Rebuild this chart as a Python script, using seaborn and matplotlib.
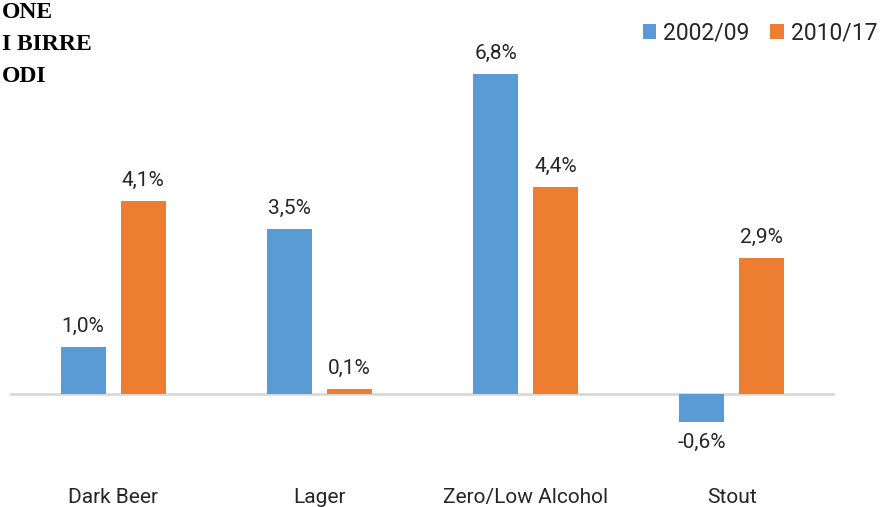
import pandas as pd
import matplotlib.pyplot as plt
import seaborn as sns

categories = ["Dark Beer", "Lager", "Zero/Low Alcohol", "Stout"]
periods = ["2002/09", "2010/17"]
growth_2002_09 = [1.0, 3.5, 6.8, -0.6]
growth_2010_17 = [4.1, 0.1, 4.4, 2.9]
title_lines = ["ONE", "I BIRRE", "ODI"]

colors = ["#5B9BD5", "#ED7D31"]

df = pd.DataFrame({
    "category": categories * 2,
    "period": [periods[0]] * len(categories) + [periods[1]] * len(categories),
    "growth": growth_2002_09 + growth_2010_17,
})

sns.set_theme(style="white")
plt.rcParams["font.family"] = ["Roboto", "DejaVu Sans"]

W, H = 880, 507
fig = plt.figure(figsize=(W / 100, H / 100), dpi=100)
# axes placed in pixel terms: left 10, right 835, top 40, bottom 460
ax = fig.add_axes([10 / W, (H - 460) / H, 825 / W, 420 / H])

sns.barplot(
    data=df,
    x="category",
    y="growth",
    hue="period",
    palette=colors,
    saturation=1,
    width=0.583,
    gap=0.25,
    linewidth=0,
    ax=ax,
)

ax.set_ylim(-1.402, 7.522)
ax.set_xlim(-0.5, 3.5)
ax.axhline(0, color="#D9D9D9", linewidth=2, zorder=0.5)

for container in ax.containers:
    labels = [f"{v:.1f}".replace(".", ",") + "%" for v in container.datavalues]
    ax.bar_label(container, labels=labels, padding=8, fontsize=15, color="#262626")

for s in ax.spines.values():
    s.set_visible(False)
ax.set_yticks([])
ax.set_xlabel("")
ax.set_ylabel("")
ax.tick_params(axis="x", length=0, pad=20, labelsize=15, labelcolor="#262626")

leg = ax.legend(
    loc="upper right",
    bbox_to_anchor=(1.0 + 18 / W, 1.0 - 1 / H),
    bbox_transform=fig.transFigure,
    ncol=2,
    frameon=False,
    fontsize=16.5,
    handlelength=0.6,
    handleheight=0.6,
    handletextpad=0.3,
    columnspacing=0.9,
    labelcolor="#262626",
)

for i, line in enumerate(title_lines):
    fig.text(2 / W, 1 - (12 + 32 * i) / H, line, fontsize=17, fontweight="bold",
             family=["Liberation Serif", "DejaVu Serif"], va="center", ha="left",
             color="#000000")

fig.savefig("out.png", dpi=100)
